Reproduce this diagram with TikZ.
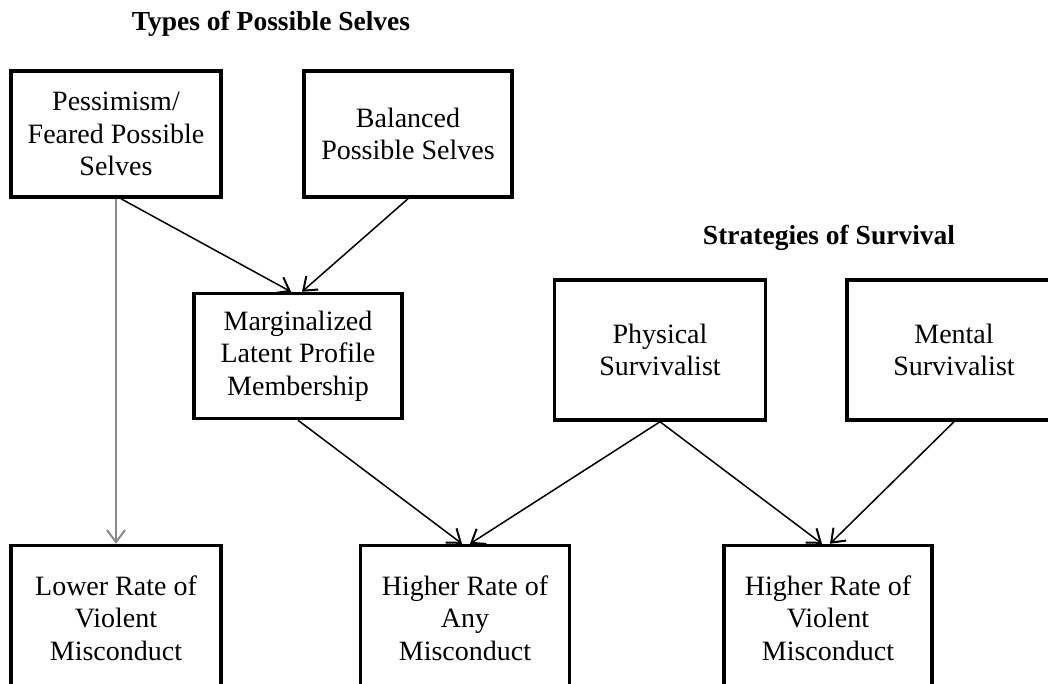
\documentclass[tikz,border=0pt]{standalone}
\usepackage{fontspec}
\setmainfont{Liberation Serif}
\usetikzlibrary{arrows.meta}
\definecolor{LineGray}{HTML}{8A8A8A}

\begin{document}
\begin{tikzpicture}[x=1pt,y=-1pt,
  every node/.style={font=\fontsize{28}{32.5}\selectfont},
  box/.style={draw, line width=3.5pt, align=center, inner sep=0pt},
  heading/.style={font=\fontsize{27.5}{32}\selectfont\bfseries},
  arr/.style={-{Straight Barb[length=12pt,width=18pt,line width=2pt]}, line width=1.5pt}]
  \clip (0,0) rectangle (1048,683);
  \node[heading] (types) at (271,24) {Types of Possible Selves};
  \node[heading] (strat) at (829,238) {Strategies of Survival};
  \node[box, minimum width=210pt, minimum height=126pt] (pess) at (116,134) {Pessimism/\\Feared Possible\\Selves};
  \node[box, minimum width=208pt, minimum height=126pt] (bal) at (408,134) {Balanced\\Possible Selves};
  \node[box, minimum width=208pt, minimum height=125pt] (marg) at (298,356) {Marginalized\\Latent Profile\\Membership};
  \node[box, minimum width=211pt, minimum height=140pt] (phys) at (660,350) {Physical\\Survivalist};
  \node[box, minimum width=214pt, minimum height=140pt] (ment) at (954,350) {Mental\\Survivalist};
  \node[box, minimum width=210pt, minimum height=145pt] (lower) at (116,618) {Lower Rate of\\Violent\\Misconduct};
  \node[box, minimum width=209pt, minimum height=145pt] (any) at (465,618) {Higher Rate of\\Any\\Misconduct};
  \node[box, minimum width=208pt, minimum height=145pt] (viol) at (828,618) {Higher Rate of\\Violent\\Misconduct};
  % connectors
  \draw[arr, LineGray] (pess.south) -- (lower.north);
  \draw[arr] ([xshift=5pt]pess.south) -- ([xshift=-7pt]marg.north);
  \draw[arr] (bal.south) -- ([xshift=4pt]marg.north);
  \draw[arr] (marg.south) -- ([xshift=-3pt]any.north);
  \draw[arr] (phys.south) -- ([xshift=5pt]any.north);
  \draw[arr] (phys.south) -- ([xshift=-6pt]viol.north);
  \draw[arr] (ment.south) -- ([xshift=2pt]viol.north);
\end{tikzpicture}
\end{document}
